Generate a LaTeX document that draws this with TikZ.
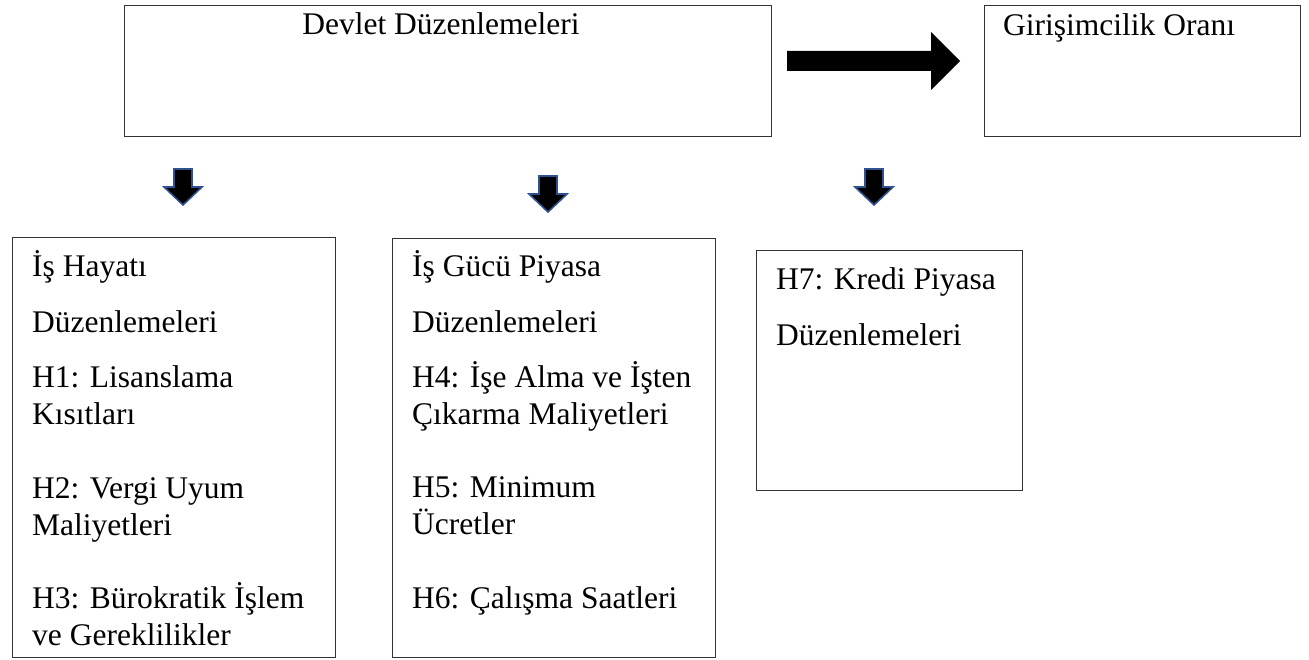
\documentclass[tikz,border=0pt]{standalone}
\usepackage{fontspec}
\setmainfont{Liberation Serif}
\definecolor{arrowblue}{HTML}{2F528F}
\definecolor{boxline}{HTML}{333333}
\begin{document}
\begin{tikzpicture}[x=1pt,y=-1pt,
  box/.style={draw=boxline, line width=1.3pt, inner sep=0pt, anchor=north west},
  txt/.style={anchor=base west, inner sep=0pt, font=\fontsize{31.5}{36}\selectfont},
  darrow/.style={fill=black, draw=arrowblue, line width=1.6pt, line join=miter},
  downarr/.pic={\filldraw[darrow] (-9,0)--(9,0)--(9,18)--(19,18)--(0,36)--(-19,18)--(-9,18)--cycle;}
]
\useasboundingbox (0,0) rectangle (1309,660);
% boxes
\node[box, minimum width=647pt, minimum height=131pt] (gov) at (124,5) {};
\node[box, minimum width=316pt, minimum height=131pt] (rate) at (984,5) {};
\node[box, minimum width=323pt, minimum height=420pt] (busi) at (12,237) {};
\node[box, minimum width=323pt, minimum height=419pt] (labr) at (392,238) {};
\node[box, minimum width=266pt, minimum height=240pt] (cred) at (756,250) {};
% top texts
\node[txt, anchor=base] (govt) at (441,35) {Devlet Düzenlemeleri};
\node[txt] (ratet) at (1003,36) {Girişimcilik Oranı};
% big right arrow
\fill[black] (787,51) -- (931,51) -- (931,32) -- (960,61) -- (931,90) -- (931,71) -- (787,71) -- cycle;
% down arrows
\pic (a1) at (183,169) {downarr};
\pic (a2) at (548,176) {downarr};
\pic (a3) at (874,169) {downarr};
% left box text
\node[txt] (l1) at (32,277) {İş Hayatı};
\node[txt] (l2) at (32,333) {Düzenlemeleri};
\node[txt] (l3) at (32,387) {H1: Lisanslama};
\node[txt] (l4) at (32,424) {Kısıtları};
\node[txt] (l5) at (32,498) {H2: Vergi Uyum};
\node[txt] (l6) at (32,535) {Maliyetleri};
\node[txt] (l7) at (32,608) {H3: Bürokratik İşlem};
\node[txt] (l8) at (32,645) {ve Gereklilikler};
% middle box text
\node[txt] (m1) at (412,277) {İş Gücü Piyasa};
\node[txt] (m2) at (412,333) {Düzenlemeleri};
\node[txt] (m3) at (412,387) {H4: İşe Alma ve İşten};
\node[txt] (m4) at (412,424) {Çıkarma Maliyetleri};
\node[txt] (m5) at (412,497) {H5: Minimum};
\node[txt] (m6) at (412,534) {Ücretler};
\node[txt] (m7) at (412,608) {H6: Çalışma Saatleri};
% right box text
\node[txt] (r1) at (776,290) {H7: Kredi Piyasa};
\node[txt] (r2) at (776,345) {Düzenlemeleri};
\end{tikzpicture}
\end{document}
